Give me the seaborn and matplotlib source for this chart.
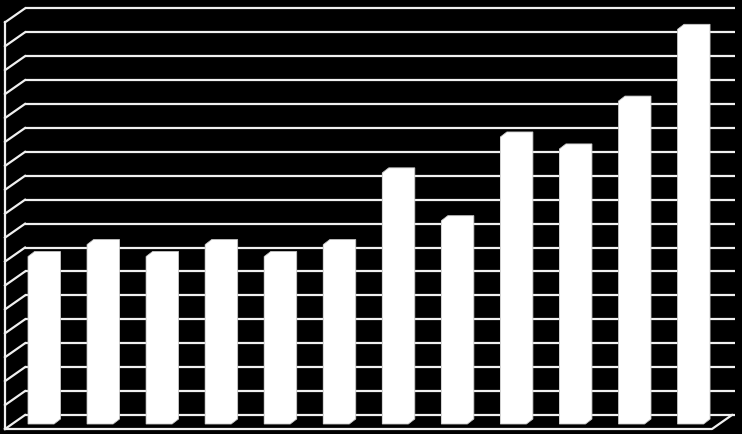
import numpy as np
import matplotlib
matplotlib.use("Agg")
import matplotlib.pyplot as plt
from matplotlib.patches import Polygon
import seaborn as sns
import pandas as pd

# ===================== data =====================
categories = [f"C{i + 1}" for i in range(12)]
values = [7, 7.5, 7, 7.5, 7, 7.5, 10.5, 8.5, 12, 11.5, 13.5, 16.5]
grid_levels = list(range(0, 18))  # back wall gridlines 0..17
Y_MAX = 17

# ===================== layout (pixels) =====================
W, H = 742, 434
UNIT = 23.92          # px per value unit
LINE_C = "#f0f0f0"
LINE_W = 1.6

# back wall: left x, right x, y of value 0
WALL_X0, WALL_X1, WALL_Y0 = 25, 735, 415
# depth offset from back wall to front (px)
DEPTH_DX, DEPTH_DY = -20, 14
# bar plane
BAR_X_STEP = 59.05
BAR_C0 = 41
BAR_Y0 = 424
BAR_W = 0.44
BAR_DX, BAR_DY = 6.5, 5  # side/top depth of each bar in px

fig = plt.figure(figsize=(W / 100, H / 100), dpi=100, facecolor="black")

# ---- back wall with gridlines ----
ax_wall = fig.add_axes([WALL_X0 / W, (H - WALL_Y0) / H,
                        (WALL_X1 - WALL_X0) / W, Y_MAX * UNIT / H])
ax_wall.set_xlim(0, 1)
ax_wall.set_ylim(0, Y_MAX)
ax_wall.set_facecolor("black")
ax_wall.axis("off")
for v in grid_levels:
    ax_wall.axhline(v, color=LINE_C, lw=LINE_W, solid_capstyle="butt", clip_on=False)

# ---- side wall / floor on a pixel overlay ----
ax_px = fig.add_axes([0, 0, 1, 1], zorder=1)
ax_px.set_xlim(0, W)
ax_px.set_ylim(H, 0)
ax_px.axis("off")
ax_px.patch.set_alpha(0)
for v in grid_levels:
    yb = WALL_Y0 - v * UNIT
    ax_px.plot([WALL_X0, WALL_X0 + DEPTH_DX], [yb, yb + DEPTH_DY], color=LINE_C, lw=LINE_W)
front_x = WALL_X0 + DEPTH_DX
top_y = WALL_Y0 - Y_MAX * UNIT + DEPTH_DY
floor_y = WALL_Y0 + DEPTH_DY
ax_px.plot([front_x, front_x], [top_y, floor_y], color=LINE_C, lw=LINE_W)
right_back = WALL_X1 - 3
ax_px.plot([front_x, right_back + DEPTH_DX, right_back],
           [floor_y, floor_y, WALL_Y0], color=LINE_C, lw=LINE_W)

# ---- bars ----
ax_bar = fig.add_axes([(BAR_C0 - BAR_X_STEP / 2) / W, (H - BAR_Y0) / H,
                       12 * BAR_X_STEP / W, Y_MAX * UNIT / H], zorder=2)
df = pd.DataFrame({"cat": categories, "val": values})
sns.barplot(data=df, x="cat", y="val", color="white", width=BAR_W,
            saturation=1, linewidth=0, ax=ax_bar)
ax_bar.set_xlim(-0.5, len(categories) - 0.5)
ax_bar.set_ylim(0, Y_MAX)
ax_bar.axis("off")
ax_bar.patch.set_alpha(0)

dx = BAR_DX / BAR_X_STEP
dy = BAR_DY / UNIT
for p in ax_bar.patches:
    x0, h, w = p.get_x(), p.get_height(), p.get_width()
    x1 = x0 + w
    pts = [(x0, 0), (x0, h), (x0 + dx, h + dy), (x1 + dx, h + dy), (x1 + dx, dy), (x1, 0)]
    ax_bar.add_patch(Polygon(pts, closed=True, facecolor="white",
                             edgecolor="#c8c8c8", lw=0.6, clip_on=False, zorder=3))

fig.savefig("out.png", dpi=100, facecolor="black")
